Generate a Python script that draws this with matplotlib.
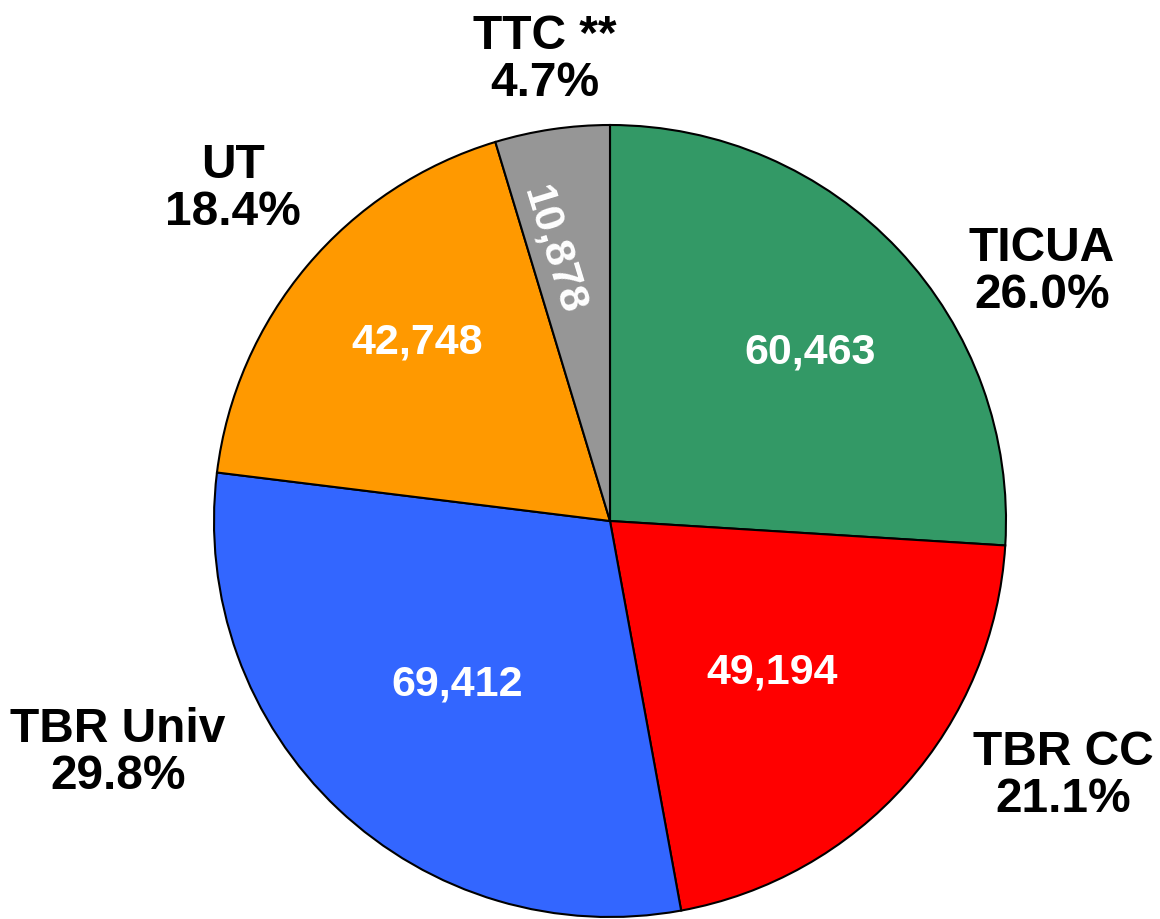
import matplotlib.pyplot as plt
import numpy as np

# Slice data (clockwise from 12 o'clock)
names = ['TICUA', 'TBR CC', 'TBR Univ', 'UT', 'TTC **']
counts = [60463, 49194, 69412, 42748, 10878]
colors = ['#339966', '#FF0000', '#3366FF', '#FF9900', '#969696']

plt.rcParams['font.family'] = ['Liberation Sans', 'DejaVu Sans']

W, H = 1160, 919
fig = plt.figure(figsize=(W / 100, H / 100), dpi=100)
ax = fig.add_axes([0, 0, 1, 1])

# pie in pixel coords (y axis flipped -> counterclock=True draws clockwise on screen)
cx, cy, R = 610, 521, 396
wedges, _ = ax.pie(counts, colors=colors, startangle=-90, counterclock=True,
                   center=(cx, cy), radius=R, frame=True,
                   wedgeprops=dict(edgecolor='black', linewidth=1.5))
ax.set_xlim(0, W)
ax.set_ylim(H, 0)
ax.axis('off')

total = sum(counts)
pcts = [c / total * 100 for c in counts]

# outer label positions (pixels)
outer_pos = [(1042, 272), (1063, 776), (118, 753), (233, 189), (545, 60)]
for name, p, (x, y) in zip(names, pcts, outer_pos):
    ax.text(x, y, f'{name}\n{p:.1f}%', ha='center', va='center',
            fontsize=34.5, fontweight='bold', color='black', linespacing=1.08)

# inner value labels
inner_pos = [(810, 352), (772, 672), (457, 685), (417, 343), (553, 250)]
inner_rot = [0, 0, 0, 0, -73]
for c, (x, y), rot in zip(counts, inner_pos, inner_rot):
    ax.text(x, y, f'{c:,}', ha='center', va='center', rotation=rot,
            fontsize=31, fontweight='bold', color='white')

fig.savefig('out.png', dpi=100)
